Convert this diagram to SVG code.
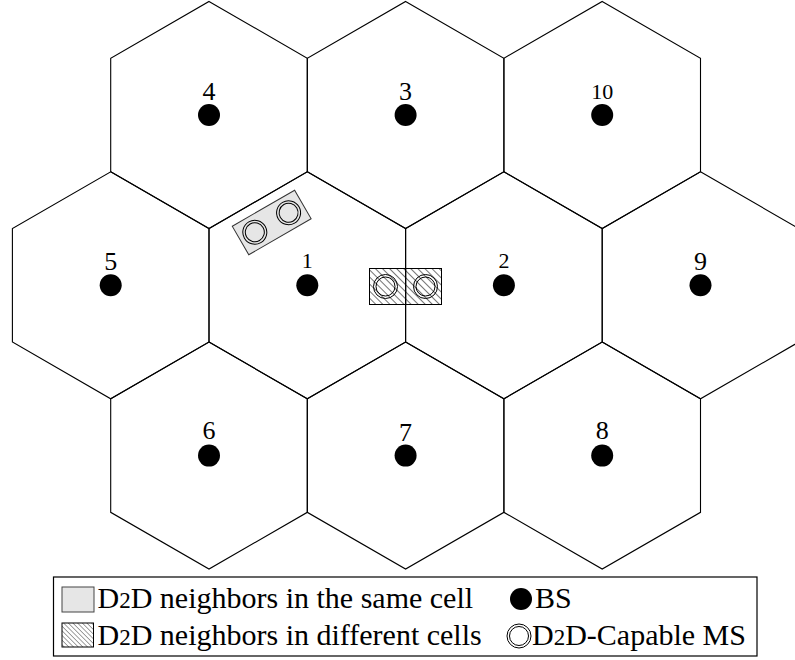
<svg xmlns="http://www.w3.org/2000/svg" xmlns:xlink="http://www.w3.org/1999/xlink" width="795" height="660" viewBox="0 0 795 660">
  <style>
    .hex { fill: none; stroke: #000; stroke-width: 1.1; }
    .bs { fill: #000; }
    .lbl { font-family: "Liberation Serif", "DejaVu Serif", serif; font-size: 26px; text-anchor: middle; fill: #000; }
    .sm { font-size: 22px; }
    .ms { fill: none; stroke: #000; stroke-width: 1; }
    .same { fill: #e6e6e6; stroke: #333; stroke-width: 1; }
    .diff { fill: url(#hatch); stroke: #000; stroke-width: 1; }
    .legtxt { font-family: "Liberation Serif", "DejaVu Serif", serif; font-size: 30px; fill: #000; }
    .os { font-size: 23px; }
  </style>
  <defs>
    <polygon id="hexshape" points="0,-113.5 98.3,-56.75 98.3,56.75 0,113.5 -98.3,56.75 -98.3,-56.75"/>
    <pattern id="hatch" patternUnits="userSpaceOnUse" width="5" height="10" patternTransform="rotate(-45)">
      <line x1="0" y1="0" x2="0" y2="10" stroke="#000" stroke-width="1.1"/>
    </pattern>
    <pattern id="hatchLeg" patternUnits="userSpaceOnUse" width="3.3" height="10" patternTransform="rotate(-45)">
      <line x1="0" y1="0" x2="0" y2="10" stroke="#000" stroke-width="0.8"/>
    </pattern>
    <g id="msdouble">
      <circle class="ms" r="12"/>
      <circle class="ms" r="9.5"/>
    </g>
  </defs>
  <rect width="795" height="660" fill="#fff"/>

  <g id="cell-4"><use xlink:href="#hexshape" class="hex" x="209" y="115"/><circle class="bs" cx="209" cy="115" r="11"/><text class="lbl" x="209" y="100">4</text></g>
  <g id="cell-3"><use xlink:href="#hexshape" class="hex" x="405.6" y="115"/><circle class="bs" cx="405.6" cy="115" r="11"/><text class="lbl" x="405.6" y="100">3</text></g>
  <g id="cell-10"><use xlink:href="#hexshape" class="hex" x="602.2" y="115"/><circle class="bs" cx="602.2" cy="115" r="11"/><text class="lbl sm" x="602.2" y="99">10</text></g>
  <g id="cell-5"><use xlink:href="#hexshape" class="hex" x="110.7" y="285.3"/><circle class="bs" cx="110.7" cy="285.3" r="11"/><text class="lbl" x="110.7" y="270">5</text></g>
  <g id="cell-1"><use xlink:href="#hexshape" class="hex" x="307.3" y="285.3"/><circle class="bs" cx="307.3" cy="285.3" r="11"/><text class="lbl sm" x="307.3" y="268">1</text></g>
  <g id="cell-2"><use xlink:href="#hexshape" class="hex" x="503.9" y="285.3"/><circle class="bs" cx="503.9" cy="285.3" r="11"/><text class="lbl sm" x="503.9" y="268">2</text></g>
  <g id="cell-9"><use xlink:href="#hexshape" class="hex" x="700.5" y="285.3"/><circle class="bs" cx="700.5" cy="285.3" r="11"/><text class="lbl" x="700.5" y="270">9</text></g>
  <g id="cell-6"><use xlink:href="#hexshape" class="hex" x="209" y="455.6"/><circle class="bs" cx="209" cy="455.6" r="11"/><text class="lbl" x="209" y="439">6</text></g>
  <g id="cell-7"><use xlink:href="#hexshape" class="hex" x="405.6" y="455.6"/><circle class="bs" cx="405.6" cy="455.6" r="11"/><text class="lbl" x="405.6" y="441">7</text></g>
  <g id="cell-8"><use xlink:href="#hexshape" class="hex" x="602.2" y="455.6"/><circle class="bs" cx="602.2" cy="455.6" r="11"/><text class="lbl" x="602.2" y="439">8</text></g>

  <g id="pair-same">
    <g transform="translate(271.7,222.5) rotate(-30)">
      <rect class="same" x="-36" y="-16.5" width="72" height="33"/>
      <use xlink:href="#msdouble" x="-19.5" y="0"/>
      <use xlink:href="#msdouble" x="19.5" y="0"/>
    </g>
  </g>
  <g id="pair-diff">
    <rect class="diff" x="369.5" y="268.5" width="72" height="36"/>
    <line x1="405.6" y1="268.5" x2="405.6" y2="304.5" stroke="#000" stroke-width="1.1"/>
    <use xlink:href="#msdouble" x="385.5" y="286.5"/>
    <use xlink:href="#msdouble" x="425.5" y="286.5"/>
  </g>

  <g id="connectors"></g>

  <g id="legend">
    <rect x="53.5" y="577" width="703.5" height="79" fill="#fff" stroke="#000" stroke-width="1.2"/>
    <rect x="62" y="587" width="32" height="25" fill="#e6e6e6" stroke="#444" stroke-width="1"/>
    <text class="legtxt" x="97.5" y="608">D<tspan class="os">2</tspan>D neighbors in the same cell</text>
    <rect x="62" y="623" width="31.5" height="24" fill="url(#hatchLeg)" stroke="#000" stroke-width="1"/>
    <text class="legtxt" x="97.5" y="645">D<tspan class="os">2</tspan>D neighbors in different cells</text>
    <circle class="bs" cx="521" cy="599" r="11"/>
    <text class="legtxt" x="535" y="608">BS</text>
    <use xlink:href="#msdouble" x="519" y="636"/>
    <text class="legtxt" x="532" y="645">D<tspan class="os">2</tspan>D-Capable MS</text>
  </g>
</svg>
